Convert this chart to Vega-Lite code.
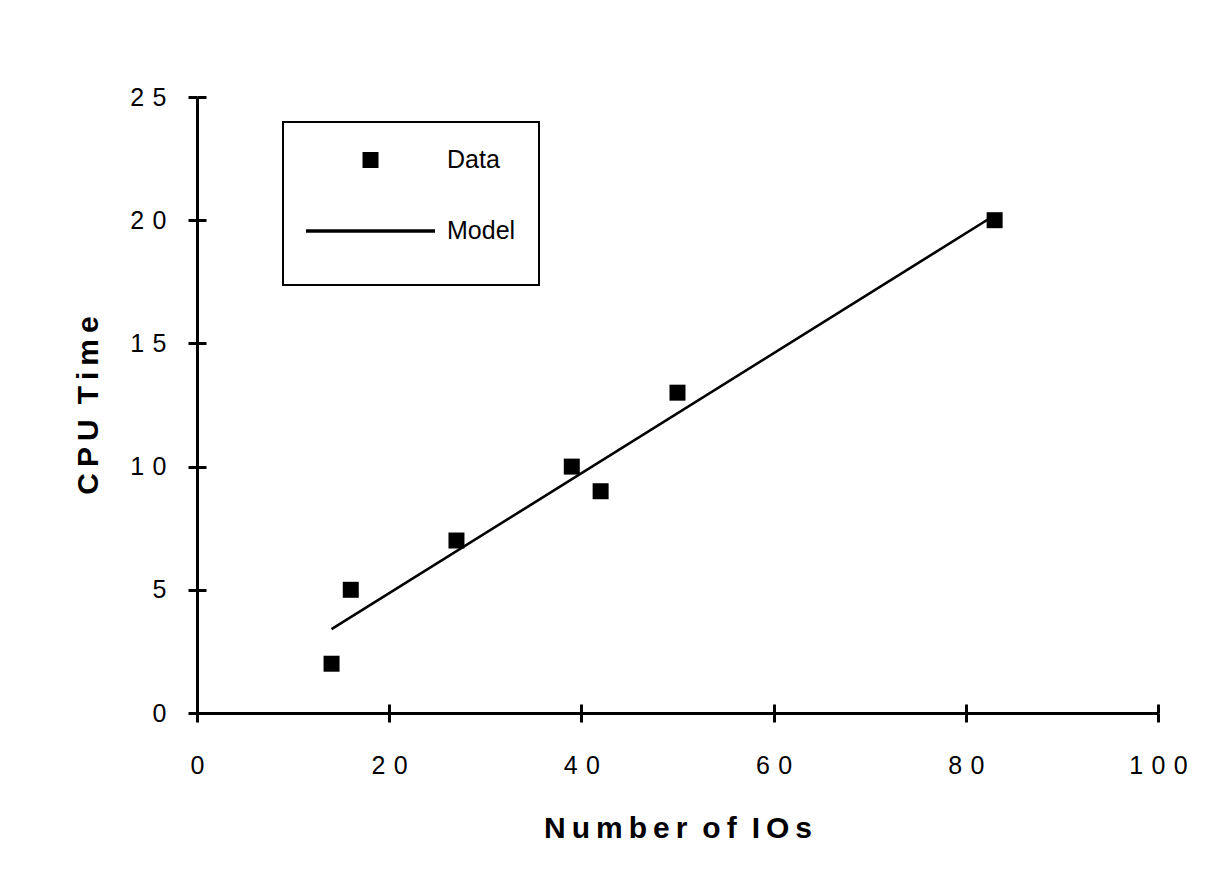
{
  "$schema": "https://vega.github.io/schema/vega-lite/v6.json",
  "width": 961,
  "height": 616,
  "autosize": {"type": "none"},
  "padding": {"left": 197, "top": 97, "right": 74, "bottom": 182},
  "background": "white",
  "config": {
    "view": {"stroke": null},
    "font": "Liberation Sans",
    "axis": {
      "grid": false,
      "domainColor": "black",
      "domainWidth": 3,
      "tickColor": "black",
      "tickWidth": 3,
      "labelColor": "black",
      "labelFont": "Liberation Sans",
      "labelFontSize": 25,
      "titleFont": "Liberation Sans",
      "titleFontSize": 30,
      "titleFontWeight": "bold",
      "titleColor": "black"
    },
    "legend": {
      "strokeColor": "black",
      "strokeWidth": 2,
      "fillColor": "white",
      "padding": 23,
      "clipHeight": 30,
      "rowPadding": 41,
      "labelOffset": 12,
      "labelFontSize": 25,
      "labelFont": "Liberation Sans",
      "labelColor": "black",
      "symbolOpacity": 1,
      "symbolSize": 16641,
      "symbolFillColor": "black",
      "symbolStrokeWidth": 0,
      "titleOrient": "bottom",
      "titleFontSize": 12,
      "titlePadding": 5,
      "titleColor": "white"
    }
  },
  "datasets": {
    "observed": [
      {"ios": 14, "cpu": 2, "series": "Data"},
      {"ios": 16, "cpu": 5, "series": "Data"},
      {"ios": 27, "cpu": 7, "series": "Data"},
      {"ios": 39, "cpu": 10, "series": "Data"},
      {"ios": 42, "cpu": 9, "series": "Data"},
      {"ios": 50, "cpu": 13, "series": "Data"},
      {"ios": 83, "cpu": 20, "series": "Data"}
    ],
    "model": [
      {"ios": 14, "cpu": 3.4},
      {"ios": 83, "cpu": 20.2}
    ]
  },
  "layer": [
    {
      "data": {"name": "observed"},
      "mark": {"type": "point", "filled": true, "opacity": 1, "color": "black", "size": 16641, "strokeWidth": 0},
      "encoding": {
        "x": {
          "field": "ios", "type": "quantitative",
          "scale": {"domain": [0, 100], "nice": false, "zero": false},
          "axis": {
            "orient": "bottom",
            "values": [0, 20, 40, 60, 80, 100],
            "tickSize": 9,
            "labelPadding": 31,
            "labelFlush": false,
            "labelOverlap": false,
            "labelExpr": "join(split(datum.label, ''), '\u2004')",
            "title": "N\u2009u\u2009m\u2009b\u2009e\u2009r\u2002o\u2009f\u2002I\u2009O\u2009s",
            "titlePadding": 35
          }
        },
        "y": {
          "field": "cpu", "type": "quantitative",
          "scale": {"domain": [0, 25], "nice": false, "zero": false},
          "axis": {
            "orient": "left",
            "values": [0, 5, 10, 15, 20, 25],
            "tickSize": 9,
            "labelPadding": 22,
            "labelFlush": false,
            "labelOverlap": false,
            "labelExpr": "join(split(datum.label, ''), '\u2004')",
            "title": "C\u2009P\u2009U\u2002T\u2009i\u2009m\u2009e",
            "titlePadding": 26
          }
        },
        "shape": {
          "field": "series", "type": "nominal",
          "scale": {
            "domain": ["Data", "Model"],
            "range": ["M-0.124,-0.124H0.124V0.124H-0.124Z", "M-1,-0.028H1V0.028H-1Z"]
          },
          "legend": {"title": " ", "orient": "none", "legendX": 86, "legendY": 25}
        }
      }
    },
    {
      "data": {"name": "model"},
      "mark": {"type": "line", "color": "black", "strokeWidth": 2.6},
      "encoding": {
        "x": {
          "field": "ios", "type": "quantitative",
          "axis": {
            "orient": "bottom",
            "values": [0, 20, 40, 60, 80, 100],
            "tickSize": -9,
            "labels": false,
            "domain": false,
            "title": null
          }
        },
        "y": {
          "field": "cpu", "type": "quantitative",
          "axis": {
            "orient": "left",
            "values": [0, 5, 10, 15, 20, 25],
            "tickSize": -9,
            "labels": false,
            "domain": false,
            "title": null
          }
        }
      }
    }
  ],
  "resolve": {"axis": {"x": "independent", "y": "independent"}}
}
